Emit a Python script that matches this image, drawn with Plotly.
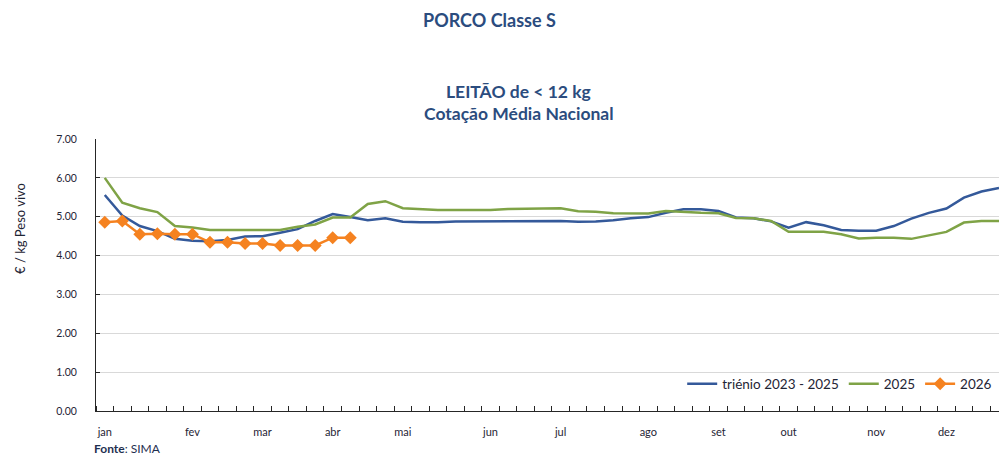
import plotly.graph_objects as go

weeks = list(range(1, 53))

trienio = [5.56, 5.03, 4.76, 4.63, 4.43, 4.38, 4.37, 4.40, 4.49, 4.50,
           4.59, 4.68, 4.89, 5.07, 4.99, 4.91, 4.96, 4.87, 4.86, 4.86,
           4.88, 4.88, 4.88, 4.88, 4.88, 4.88, 4.89, 4.87, 4.88, 4.91,
           4.96, 4.99, 5.10, 5.19, 5.19, 5.15, 4.98, 4.96, 4.88, 4.72,
           4.86, 4.78, 4.66, 4.64, 4.64, 4.76, 4.95, 5.10, 5.21, 5.49,
           5.65, 5.74]

y2025 = [6.00, 5.36, 5.22, 5.12, 4.76, 4.72, 4.66, 4.66, 4.66, 4.66,
         4.66, 4.74, 4.80, 4.98, 4.98, 5.33, 5.40, 5.22, 5.19, 5.17,
         5.17, 5.17, 5.17, 5.20, 5.21, 5.21, 5.22, 5.14, 5.13, 5.09,
         5.08, 5.08, 5.15, 5.12, 5.10, 5.09, 4.97, 4.96, 4.89, 4.61,
         4.61, 4.61, 4.55, 4.44, 4.46, 4.46, 4.43, 4.52, 4.61, 4.85,
         4.89, 4.89]

y2026 = [4.86, 4.89, 4.55, 4.56, 4.55, 4.55, 4.34, 4.34, 4.31, 4.31,
         4.26, 4.26, 4.26, 4.46, 4.46]

month_weeks = [1, 6, 10, 14, 18, 23, 27, 32, 36, 40, 45, 49]
month_labels = ["jan", "fev", "mar", "abr", "mai", "jun", "jul", "ago",
                "set", "out", "nov", "dez"]

y_ticks = [0, 1, 2, 3, 4, 5, 6, 7]

FONT = "Lato"
TXT = "#1f2535"
TITLE_C = "#2b4c7e"
AXIS_C = "#262626"

fig = go.Figure()
fig.add_trace(go.Scatter(x=weeks, y=trienio, mode="lines",
                         name="triénio 2023 - 2025",
                         line=dict(color="#34599a", width=2.5)))
fig.add_trace(go.Scatter(x=weeks, y=y2025, mode="lines", name="2025",
                         line=dict(color="#7fa346", width=2.5)))
fig.add_trace(go.Scatter(x=weeks[:len(y2026)], y=y2026, mode="lines+markers",
                         name="2026",
                         line=dict(color="#f58220", width=2.5),
                         marker=dict(symbol="diamond", size=10, color="#f58220")))

fig.update_layout(
    width=999, height=456,
    margin=dict(l=96, r=0, t=139, b=45),
    paper_bgcolor="white", plot_bgcolor="white",
    font=dict(family=FONT, size=11, color=TXT),
    showlegend=True,
    legend=dict(orientation="h", x=0.998, xanchor="right", y=0.099,
                yanchor="middle", font=dict(size=13.5, color=TXT),
                bgcolor="rgba(0,0,0,0)", itemwidth=30, tracegroupgap=0),
    xaxis=dict(range=[0.5, 52.0], tickvals=month_weeks, ticktext=month_labels,
               ticks="", showgrid=False, showline=True, linecolor=AXIS_C,
               linewidth=1, zeroline=False, ticklabelstandoff=11,
               tickfont=dict(size=11, color=TXT),
               minor=dict(tick0=0.5, dtick=1, ticks="inside", ticklen=5,
                          tickcolor=AXIS_C, showgrid=False)),
    yaxis=dict(range=[0, 7], tickvals=y_ticks, tickformat=".2f",
               ticks="inside", ticklen=4, tickcolor=AXIS_C,
               showline=True, linecolor=AXIS_C, linewidth=1,
               showgrid=True, gridcolor="#d9d9d9", gridwidth=1,
               zeroline=False, ticklabelstandoff=16,
               tickfont=dict(size=10.5, color=TXT)),
)

fig.add_annotation(text="<b>PORCO Classe S</b>", xref="paper", yref="paper",
                   x=0.4363, y=1.4375, xanchor="center", yanchor="middle",
                   showarrow=False, font=dict(size=18, color=TITLE_C, family=FONT))
fig.add_annotation(text="<b>LEITÃO de < 12 kg</b>", xref="paper", yref="paper",
                   x=0.4684, y=1.176, xanchor="center", yanchor="middle",
                   showarrow=False, font=dict(size=17.5, color=TITLE_C, family=FONT))
fig.add_annotation(text="<b>Cotação Média Nacional</b>", xref="paper", yref="paper",
                   x=0.4684, y=1.092, xanchor="center", yanchor="middle",
                   showarrow=False, font=dict(size=17.5, color=TITLE_C, family=FONT))
fig.add_annotation(text="€ / kg Peso vivo", xref="paper", yref="paper",
                   x=-0.0842, y=0.673, xanchor="center", yanchor="middle",
                   textangle=-90, showarrow=False,
                   font=dict(size=13, color=TXT, family=FONT))
fig.add_annotation(text="<b>Fonte</b>: SIMA", xref="paper", yref="paper",
                   x=-0.004, y=-0.138, xanchor="left", yanchor="middle",
                   showarrow=False, font=dict(size=12, color="#1f3050", family=FONT))

fig.write_html(
    "out.html",
    config={"displayModeBar": False},
    post_script="document.body.style.margin='0';"
                "document.body.style.overflow='hidden';"
                "document.documentElement.style.overflow='hidden';",
)
